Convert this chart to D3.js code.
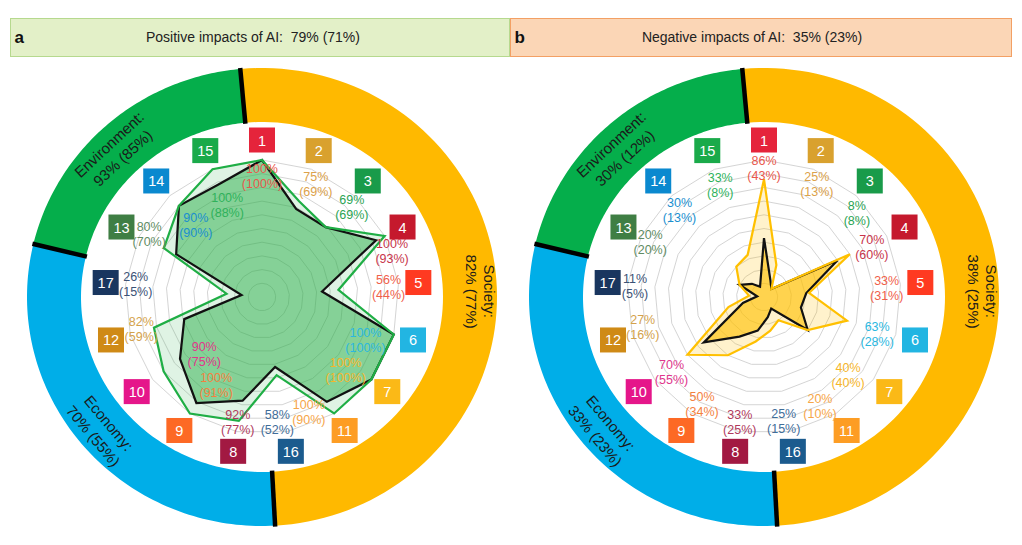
<!DOCTYPE html>
<html><head><meta charset="utf-8">
<script src="https://cdn.jsdelivr.net/npm/d3@7"></script>
<style>
html,body{margin:0;padding:0;background:#fff;}
text{font-family:"Liberation Sans",Arial,Helvetica,sans-serif;}
</style></head>
<body><svg id="c" width="1022" height="545"></svg>
<script>
// ---------- data ----------
const goals = [1,2,3,4,5,6,7,11,16,8,9,10,12,17,13,14,15];
const positiveMain  = [100,75,69,100,56,100,100,100,58,92,100,90,82,26,80,90,100];
const positiveParen = [100,69,69,93,44,100,100,90,52,77,91,75,59,15,70,90,88];
const negativeMain  = [86,25,8,70,33,63,40,20,25,33,50,70,27,11,20,30,33];
const negativeParen = [43,13,8,60,31,28,40,10,15,25,34,55,16,5,20,13,8];
const titles = ["Positive impacts of AI:  79% (71%)","Negative impacts of AI:  35% (23%)"];
const panelLetters = ["a","b"];
const groupNames = ["Society:","Economy:","Environment:"];
const groupValuesPos = ["82% (77%)","70% (55%)","93% (85%)"];
const groupValuesNeg = ["38% (25%)","33% (23%)","30% (12%)"];

// ---------- styles / layout ----------
const sdgColors = {1:"#e5243b",2:"#d9a12e",3:"#199b4a",4:"#c5192d",5:"#ff3a21",6:"#22b5e2",
 7:"#fbb917",8:"#a21942",9:"#fd6925",10:"#e5168a",11:"#fd9d24",12:"#cf8a16",13:"#3f7e44",
 14:"#0a89cf",15:"#1aaa4a",16:"#1b5b8e",17:"#19365f"};
const labelColors = {1:"#e9574c",2:"#dca24a",3:"#2aa453",4:"#c8344a",5:"#f0604a",6:"#2cb8df",
 7:"#f6b52a",8:"#b03a5c",9:"#f4813f",10:"#e0368c",11:"#f6a649",12:"#d4a24c",13:"#5f8c63",
 14:"#1b8fcf",15:"#2fb25b",16:"#3f6d99",17:"#3b5276"};
// label placement [radius, angle deg] per axis
const labelPosLeft = [[121,0],[125,25.5],[127,45],[138,70.5],[127,85.5],[112,112.5],[111,131],
 [124,157.8],[126,173],[127,191],[99,207.6],[81,225.5],[125,255],[127,276],[129,299],[98,317.5],[98,339.2]];
const labelPosRight = [[129.5,0],[125,25],[125,48],[119,65],[123,86],[119,108],[115,133],
 [122.5,152.8],[126,171],[127,191],[124,210],[119,231],[125,256],[129.5,275],[126.6,296],[121.6,316],[120,338.6]];
// ring segments: [startDeg, endDeg, color]
const ringSegs = [[-5.3,176.8,"#ffb900"],[176.8,283.4,"#00aee8"],[283.4,354.7,"#05ae4b"]];

const svg = d3.select("#c");
svg.append("rect").attr("width",1022).attr("height",545).attr("fill","#fff");

// headers
const headers = [
 {x:10.5,w:499,fill:"#e3f0c8",stroke:"#b6d98e",tx:253},
 {x:510.5,w:501,fill:"#fbd6b6",stroke:"#f3a064",tx:752}
];
headers.forEach((h,i)=>{
  svg.append("rect").attr("x",h.x).attr("y",18.5).attr("width",h.w).attr("height",38)
    .attr("fill",h.fill).attr("stroke",h.stroke).attr("stroke-width",1);
  svg.append("text").attr("x",h.x+4).attr("y",43).attr("font-size",17).attr("font-weight","bold")
    .attr("fill","#111").text(panelLetters[i]);
  svg.append("text").attr("x",h.tx).attr("y",42).attr("font-size",14).attr("text-anchor","middle")
    .attr("fill","#222").style("white-space","pre").text(titles[i]);
});

const rad = d3.scaleLinear().domain([0,100]).range([0,137]);
const ang = d3.scaleLinear().domain([0,goals.length]).range([0,360]);
const toRad = d => d*Math.PI/180;

function drawPanel(cx, cy, main, paren, labelPos, strokeCol, outerFill, innerFill, gVals){
  const g = svg.append("g");
  // ring
  const ro = {x:235,y:229}, ri = {x:181,y:175};
  const ept = (r,a)=>[cx + r.x*Math.sin(toRad(a)), cy - r.y*Math.cos(toRad(a))];
  ringSegs.forEach(s=>{
    const n = 90;
    const outer = d3.range(n+1).map(k=>ept(ro, s[0]+(s[1]-s[0])*k/n));
    const inner = d3.range(n+1).map(k=>ept(ri, s[1]-(s[1]-s[0])*k/n));
    g.append("path").attr("d", d3.line()(outer.concat(inner))+"Z").attr("fill",s[2]);
  });
  ringSegs.forEach(s=>{
    const a=ept({x:ro.x+1,y:ro.y+1},s[0]), b=ept({x:ri.x-1,y:ri.y-1},s[0]);
    g.append("line").attr("x1",a[0]).attr("y1",a[1]).attr("x2",b[0]).attr("y2",b[1])
      .attr("stroke","#000").attr("stroke-width",4.5);
  });
  // ring texts
  const ringTxt = [
    {a:88.5, r1:223, r2:205, rot:90, n:0},
    {a:230, r1:196, r2:216, rot:50, n:1},
    {a:-44.5, r1:214, r2:195, rot:-43, n:2}
  ];
  ringTxt.forEach(t=>{
    [[t.r1,groupNames[t.n]],[t.r2,gVals[t.n]]].forEach(([r,s])=>{
      const p = [cx + r*1.02*Math.sin(toRad(t.a)), cy - r*Math.cos(toRad(t.a))];
      g.append("text").attr("transform",`translate(${p[0]},${p[1]}) rotate(${t.rot})`)
        .attr("text-anchor","middle").attr("dominant-baseline","central")
        .attr("font-size",15).attr("fill","#1a1a1a").text(s);
    });
  });
  // grid
  const rg = g.append("g").attr("transform",`translate(${cx},${cy})`);
  const radial = d3.lineRadial().angle((d,i)=>toRad(ang(i))).radius(d=>rad(d)).curve(d3.curveLinearClosed);
  d3.range(10,101,10).forEach(lv=>{
    rg.append("path").attr("d",radial(goals.map(()=>lv))).attr("fill","none")
      .attr("stroke","#cfcfcf").attr("stroke-width",0.9);
  });
  rg.append("path").attr("d",radial(main)).attr("fill",outerFill.c).attr("fill-opacity",outerFill.o)
    .attr("stroke","none");
  rg.append("path").attr("d",radial(paren)).attr("fill",innerFill.c).attr("fill-opacity",innerFill.o)
    .attr("stroke","#111").attr("stroke-width",2.2).attr("stroke-linejoin","miter");
  rg.append("path").attr("d",radial(main)).attr("fill","none")
    .attr("stroke",strokeCol).attr("stroke-width",2.2).attr("stroke-linejoin","miter");
  // boxes
  goals.forEach((gl,i)=>{
    const a = toRad(ang(i)), r = 157;
    const x = r*Math.sin(a), y = -r*Math.cos(a);
    rg.append("rect").attr("x",x-13).attr("y",y-12.5).attr("width",26).attr("height",25)
      .attr("fill",sdgColors[gl]);
    rg.append("text").attr("x",x).attr("y",y+0.5).attr("text-anchor","middle")
      .attr("dominant-baseline","central").attr("font-size",14.5).attr("fill","#fff").text(gl);
    // value labels
    const lp = labelPos[i];
    const lx = lp[0]*Math.sin(toRad(lp[1])), ly = -lp[0]*Math.cos(toRad(lp[1]));
    const t = rg.append("text").attr("text-anchor","middle").attr("font-size",12.5)
      .attr("fill",labelColors[gl]);
    t.append("tspan").attr("x",lx).attr("y",ly-3).text(main[i]+"%");
    t.append("tspan").attr("x",lx).attr("y",ly+12).text("("+paren[i]+"%)");
  });
}

drawPanel(262, 297, positiveMain, positiveParen, labelPosLeft, "#1fae45",
  {c:"#2bb04a",o:0.15}, {c:"#2bb04a",o:0.5}, groupValuesPos);
drawPanel(764, 297, negativeMain, negativeParen, labelPosRight, "#ffc000",
  {c:"#ffc000",o:0.2}, {c:"#ffc000",o:0.62}, groupValuesNeg);
</script></body></html>
